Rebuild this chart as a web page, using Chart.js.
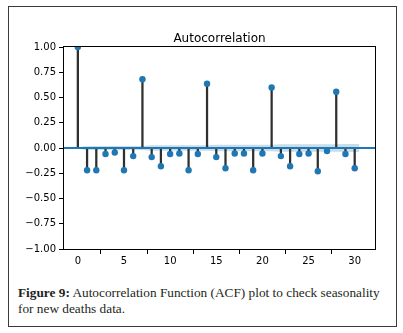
<!DOCTYPE html>
<html>
<head>
<meta charset="utf-8">
<script src="https://cdn.jsdelivr.net/npm/chart.js@4.4.1/dist/chart.umd.min.js"></script>
<style>
    html, body { margin: 0; padding: 0; background: #fff; }
    body { width: 403px; height: 333px; position: relative; overflow: hidden; }
    .frame {
        position: absolute; left: 8px; top: 6px; width: 389px; height: 321px;
        border: 1px solid #3a3a3a; box-sizing: border-box;
    }
    .chart-box { position: absolute; left: 0; top: 0; width: 403px; height: 275px; }
    .caption {
        position: absolute; left: 18px; top: 285px;
        font-family: "Liberation Serif", serif; font-size: 13.3px; line-height: 15.5px;
        color: #231f20; white-space: nowrap;
    }
    .caption b { font-weight: bold; }
</style>
</head>
<body>
<div class="frame"></div>
<div class="chart-box"><canvas id="acfChart"></canvas></div>
<div class="caption"><b>Figure 9:</b> Autocorrelation Function (ACF) plot to check seasonality<br>for new deaths data.</div>

<script>
// ACF values, lags 0..30
const lags = [0, 1, 2, 3, 4, 5, 6, 7, 8, 9, 10, 11, 12, 13, 14, 15,
              16, 17, 18, 19, 20, 21, 22, 23, 24, 25, 26, 27, 28, 29, 30];
const acfValues = [1.00, -0.22, -0.22, -0.06, -0.045, -0.22, -0.08, 0.68, -0.09, -0.18,
                   -0.06, -0.055, -0.22, -0.06, 0.637, -0.09, -0.20, -0.055, -0.055, -0.22,
                   -0.055, 0.60, -0.08, -0.18, -0.06, -0.055, -0.23, -0.03, 0.557, -0.06, -0.20];

// confidence band half-width, lags 1..30
const bandLags = lags.slice(1);
const bandHalf = [0.018, 0.02, 0.02, 0.02, 0.02, 0.02, 0.02, 0.027, 0.027, 0.027,
                  0.027, 0.027, 0.027, 0.027, 0.032, 0.032, 0.032, 0.032, 0.032, 0.032,
                  0.032, 0.037, 0.037, 0.037, 0.037, 0.037, 0.037, 0.037, 0.04, 0.04];

const xTicks = [0, 5, 10, 15, 20, 25, 30];
const yTicks = [-1, -0.75, -0.5, -0.25, 0, 0.25, 0.5, 0.75, 1];
const xMin = -1.5, xMax = 32.2;

const blue = '#1f77b4';
const tickFont = { family: 'DejaVu Sans', size: 10 };

document.addEventListener('DOMContentLoaded', function() {
    // band edges stretch half a lag past first and last
    const bandX = bandLags.map((l, i) => i === 0 ? l - 0.5 : (i === bandLags.length - 1 ? l + 0.5 : l));

    const framePlugin = {
        id: 'framePlugin',
        afterDraw(chart) {
            const a = chart.chartArea;
            const ctx = chart.ctx;
            ctx.save();
            ctx.strokeStyle = '#000';
            ctx.lineWidth = 1;
            ctx.strokeRect(Math.round(a.left) - 0.5, Math.round(a.top) - 0.5,
                           Math.round(a.right - a.left) + 1, Math.round(a.bottom - a.top) + 1);
            ctx.fillStyle = '#000';
            ctx.font = '12px "DejaVu Sans"';
            ctx.textAlign = 'center';
            ctx.textBaseline = 'middle';
            ctx.fillText('Autocorrelation', (a.left + a.right) / 2, a.top - 8);
            ctx.restore();
        }
    };

    new Chart(document.getElementById('acfChart'), {
        type: 'bar',
        data: {
            datasets: [
                {
                    type: 'scatter',
                    data: lags.map((l, i) => ({ x: l, y: acfValues[i] })),
                    backgroundColor: blue,
                    borderColor: blue,
                    pointRadius: 3.2,
                    pointBorderWidth: 0,
                    order: 0
                },
                {
                    type: 'line',
                    data: [{ x: xMin, y: 0 }, { x: xMax, y: 0 }],
                    borderColor: blue,
                    borderWidth: 2,
                    pointRadius: 0,
                    order: 1
                },
                {
                    type: 'bar',
                    data: lags.map((l, i) => ({ x: l, y: [0, acfValues[i]] })),
                    backgroundColor: '#303030',
                    barThickness: 1.6,
                    grouped: false,
                    order: 2
                },
                {
                    type: 'line',
                    data: bandX.map((x, i) => ({ x: x, y: bandHalf[i] })),
                    borderWidth: 0,
                    pointRadius: 0,
                    fill: '+1',
                    backgroundColor: 'rgba(31, 119, 180, 0.25)',
                    order: 3
                },
                {
                    type: 'line',
                    data: bandX.map((x, i) => ({ x: x, y: -bandHalf[i] })),
                    borderWidth: 0,
                    pointRadius: 0,
                    fill: false,
                    order: 3
                }
            ]
        },
        options: {
            responsive: true,
            maintainAspectRatio: false,
            animation: false,
            layout: { padding: { left: 18, right: 28, top: 47, bottom: 5 } },
            plugins: {
                legend: { display: false },
                tooltip: { enabled: false },
                title: { display: false }
            },
            scales: {
                x: {
                    type: 'linear',
                    min: xMin,
                    max: xMax,
                    offset: false,
                    afterBuildTicks: function(scale) {
                        scale.ticks = xTicks.map(v => ({ value: v }));
                    },
                    afterFit: function(scale) { scale.height = 21; },
                    grid: { drawOnChartArea: false, tickLength: 5, color: '#000' },
                    border: { display: false },
                    ticks: {
                        font: tickFont,
                        color: '#000',
                        padding: 1,
                        maxRotation: 0,
                        callback: v => String(v)
                    }
                },
                y: {
                    min: -1,
                    max: 1,
                    afterBuildTicks: function(scale) {
                        scale.ticks = yTicks.map(v => ({ value: v }));
                    },
                    afterFit: function(scale) { scale.width = 46; },
                    grid: { drawOnChartArea: false, tickLength: 5, color: '#000' },
                    border: { display: false },
                    ticks: {
                        font: tickFont,
                        color: '#000',
                        padding: 3,
                        callback: v => v.toFixed(2).replace('-', '\u2212')
                    }
                }
            }
        },
        plugins: [framePlugin]
    });
});
</script>
</body>
</html>
